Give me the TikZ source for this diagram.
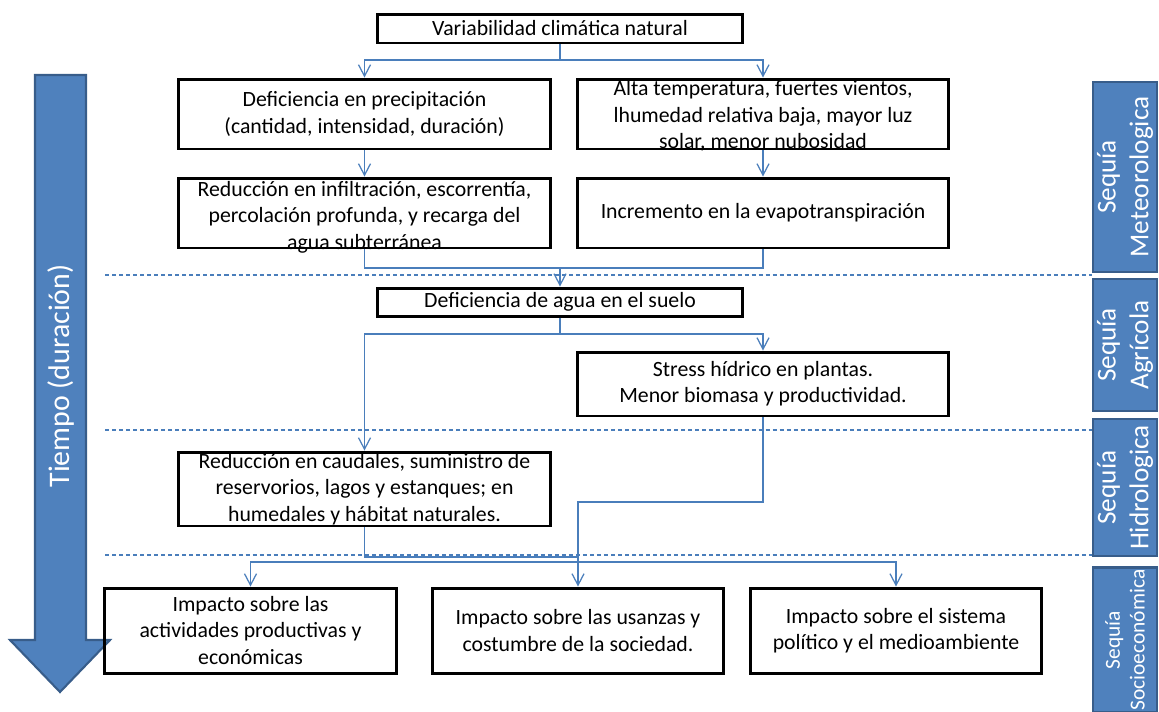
\documentclass[tikz,border=0pt]{standalone}
\usepackage{fontspec}
\setmainfont{Carlito}
\usetikzlibrary{arrows.meta}
\definecolor{linkblue}{HTML}{4A7EBB}
\definecolor{barfill}{HTML}{4F81BD}
\definecolor{bardraw}{HTML}{385D8A}

\begin{document}
\begin{tikzpicture}[x=0.02cm, y=-0.02cm,
    box/.style={draw, line width=1.7pt, align=center, inner sep=0pt, font=\fontsize{12.4}{15}\selectfont},
    boxtxt/.style={align=center, inner sep=0pt, font=\fontsize{12.4}{15}\selectfont},
    link/.style={draw=linkblue, line width=0.7pt},
    arr/.style={link, -{Straight Barb[length=2.3mm, width=2.4mm]}},
    sep/.style={draw=linkblue, line width=0.6pt, dash pattern=on 2.3pt off 1.7pt},
    side/.style={fill=barfill, draw=bardraw, line width=1.2pt, text=white, align=center, rotate=90, inner sep=0pt}]
  \useasboundingbox (0,0) rectangle (1159,711);
  % flecha del tiempo
  \draw[fill=barfill, draw=bardraw, line width=1.2pt] (35,75) -- (86,75) -- (86,640) -- (110,640) -- (60,692) -- (10,640) -- (35,640) -- cycle;
  \node[rotate=90, text=white, font=\fontsize{17}{20}\selectfont] (tiempo) at (61,376) {Tiempo (duración)};
  % separadores
  \draw[sep] (105,275) -- (1092,275);
  \draw[sep] (105,430) -- (1092,430);
  \draw[sep] (105,555) -- (1092,555);
  % etiquetas de sequia
  \node[side, minimum width=3.8cm, minimum height=1.28cm, font=\fontsize{15.5}{18.7}\selectfont] (met) at (1125,177) {Sequía\\Meteorologica};
  \node[side, minimum width=2.64cm, minimum height=1.28cm, font=\fontsize{15.5}{18.7}\selectfont] (agr) at (1125,345) {Sequía\\Agrícola};
  \node[side, minimum width=2.74cm, minimum height=1.28cm, font=\fontsize{15.5}{18.7}\selectfont] (hid) at (1125,487.5) {Sequía\\Hidrologica};
  \node[side, minimum width=2.9cm, minimum height=1.28cm, font=\fontsize{12.2}{14.2}\selectfont] (soc) at (1125,640) {Sequía\\Socioeconómica};
  % bloques
  \node[box, minimum width=7.32cm, minimum height=0.58cm] (var) at (560,28.5) {Variabilidad climática natural};
  \node[box, minimum width=7.46cm, minimum height=1.4cm] (defp) at (364.5,114) {Deficiencia en precipitación\\(cantidad, intensidad, duración)};
  \node[box, minimum width=7.44cm, minimum height=1.4cm] (alta) at (763,114) {};
  \node[boxtxt] (altatxt) at (763,116) {Alta temperatura, fuertes vientos,\\lhumedad relativa baja, mayor luz\\solar, menor nubosidad};
  \node[box, minimum width=7.46cm, minimum height=1.4cm] (infil) at (364.5,213) {};
  \node[boxtxt] (infiltxt) at (364.5,217) {Reducción en infiltración, escorrentía,\\percolación profunda, y recarga del\\agua subterránea};
  \node[box, minimum width=7.44cm, minimum height=1.4cm] (evap) at (763,213) {Incremento en la evapotranspiración};
  \node[box, minimum width=7.32cm, minimum height=0.56cm] (suelo) at (560,302) {Deficiencia de agua en el suelo};
  \node[box, minimum width=7.44cm, minimum height=1.28cm] (stress) at (763,384) {Stress hídrico en plantas.\\Menor biomasa y productividad.};
  \node[box, minimum width=7.46cm, minimum height=1.48cm] (caudal) at (364.5,489) {Reducción en caudales, suministro de\\reservorios, lagos y estanques; en\\humedales y hábitat naturales.};
  \node[box, minimum width=5.86cm, minimum height=1.7cm] (imp1) at (250.5,630.5) {Impacto sobre las\\actividades productivas y\\económicas};
  \node[box, minimum width=5.84cm, minimum height=1.7cm] (imp2) at (578,630.5) {Impacto sobre las usanzas y\\costumbre de la sociedad.};
  \node[box, minimum width=5.84cm, minimum height=1.7cm] (imp3) at (896,630.5) {Impacto sobre el sistema\\político y el medioambiente};
  % conexiones
  \coordinate (j1) at (560,60);
  \coordinate (j2) at (560,268);
  \coordinate (j3) at (560,334);
  \coordinate (j4) at (578,502);
  \coordinate (j5) at (578,557);
  \coordinate (j6) at (578,562);
  \draw[link] (var) -- (j1);
  \draw[arr] (j1) -| (defp.north);
  \draw[arr] (j1) -| (alta.north);
  \draw[arr] (defp) -- (infil);
  \draw[arr] (alta) -- (evap);
  \draw[link] (infil.south) |- (j2);
  \draw[link] (evap.south) |- (j2);
  \draw[arr] (j2) -- (suelo);
  \draw[link] (suelo) -- (j3);
  \draw[arr] (j3) -| (stress.north);
  \draw[arr] (j3) -| (caudal.north);
  \draw[arr] (stress.south) |- (j4) -- (imp2.north);
  \draw[link] (caudal.south) |- (j5);
  \draw[arr] (j6) -| (imp1.north);
  \draw[arr] (j6) -| (imp3.north);
\end{tikzpicture}
\end{document}
